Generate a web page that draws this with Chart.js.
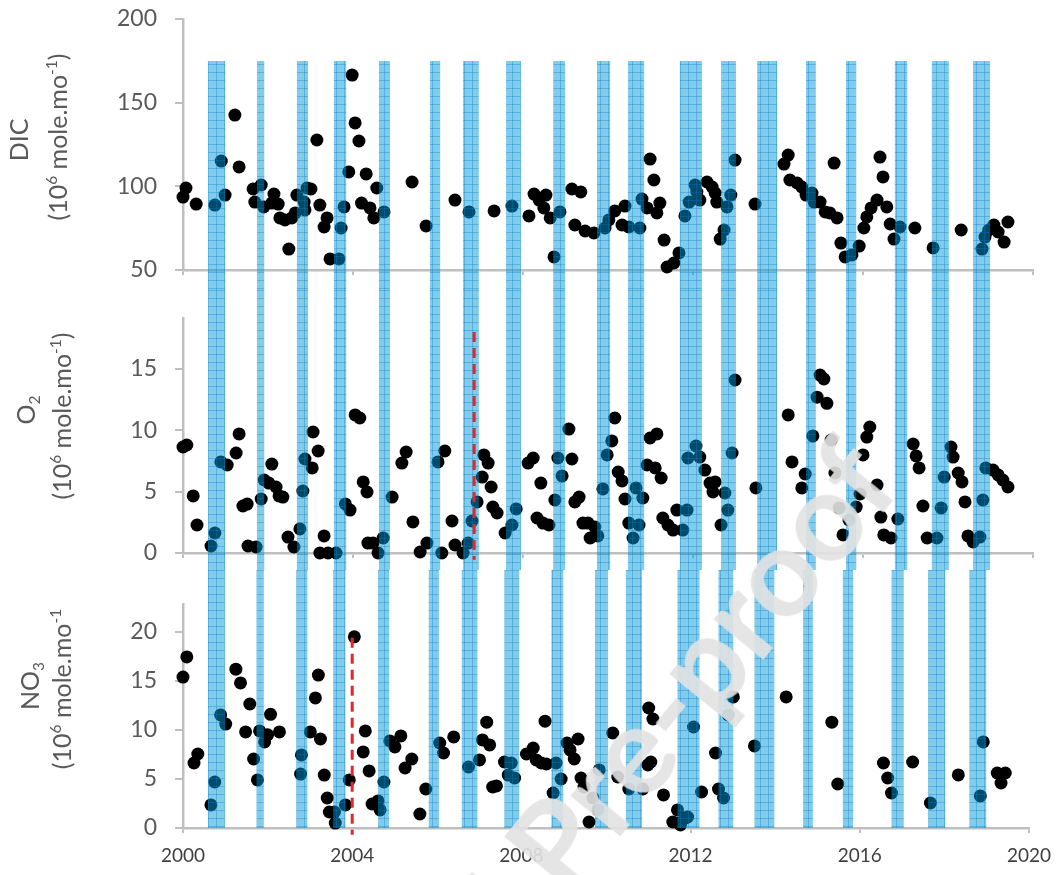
<!DOCTYPE html>
<html>
<head>
<meta charset="utf-8">
<script src="https://cdn.jsdelivr.net/npm/chart.js@4.4.1/dist/chart.umd.min.js"></script>
<style>
  body { margin: 0; background: #fff; }
  #page { position: relative; width: 1062px; height: 875px; overflow: hidden; font-family: Lato, "Open Sans", sans-serif; }
  .panel { position: absolute; left: 0; }
  .ytitle { position: absolute; transform: translate(-50%, -50%) rotate(-90deg); white-space: nowrap;
            font-size: 25px; color: #595959; line-height: 1; }
  .ytitle sup { font-size: 62%; vertical-align: 0.6em; line-height: 0; }
  .ytitle sub { font-size: 62%; vertical-align: -0.35em; line-height: 0; }
  #mark { position: absolute; left: 672px; top: 720px; width: 0; height: 0; transform: rotate(-51deg); pointer-events: none; }
  #mark span { position: absolute; top: -0.62em; font-size: 124px; font-weight: bold; line-height: 1; color: rgba(226,226,226,0.9); white-space: nowrap; }
</style>
</head>
<body>
<div id="page">
  <canvas id="dicChart" class="panel" style="top:0" width="1062" height="290"></canvas>
  <canvas id="o2Chart" class="panel" style="top:290px" width="1062" height="280"></canvas>
  <canvas id="no3Chart" class="panel" style="top:570px" width="1062" height="305"></canvas>

  <div class="ytitle" style="left:18px;top:140px">DIC</div>
  <div class="ytitle" style="left:57px;top:137px">(10<sup>6</sup> mole.mo<sup>-1</sup>)</div>
  <div class="ytitle" style="left:25px;top:410px">O<sub>2</sub></div>
  <div class="ytitle" style="left:61px;top:416px">(10<sup>6</sup> mole.mo<sup>-1</sup>)</div>
  <div class="ytitle" style="left:29px;top:686px">NO<sub>3</sub></div>
  <div class="ytitle" style="left:61px;top:689px">(10<sup>6</sup> mole.mo<sup>-1</sup></div>

  <div id="mark"><span style="right:0.16em">Journal Pre</span><span style="left:-0.16em">-proof</span></div>
</div>

<script>
// axes
const yearTicks = [2000, 2004, 2008, 2012, 2016, 2020];
const dicTicks = [50, 100, 150, 200];
const o2Ticks = [0, 5, 10, 15];
const no3Ticks = [0, 5, 10, 15, 20];

// blue bands (start / end, decimal year)
const bandStart = [2000.59, 2001.74, 2002.68, 2003.55, 2004.61, 2005.81, 2006.59, 2007.60, 2008.71, 2009.74,
                   2010.47, 2011.69, 2012.66, 2013.51, 2014.66, 2015.60, 2016.75, 2017.62, 2018.59];
const bandEnd   = [2000.99, 2001.91, 2002.94, 2003.84, 2004.87, 2006.05, 2006.96, 2007.95, 2008.99, 2010.05,
                   2010.85, 2012.21, 2013.01, 2013.98, 2014.89, 2015.84, 2017.04, 2018.02, 2018.99];

// DIC
const dicDates = [2000.00, 2000.07, 2000.31, 2000.75, 2000.90, 2000.99, 2001.22, 2001.32, 2001.65, 2001.69,
  2001.84, 2001.90, 2002.09, 2002.14, 2002.24, 2002.28, 2002.40, 2002.49, 2002.56, 2002.64,
  2002.68, 2002.85, 2002.87, 2002.92, 2003.01, 2003.15, 2003.22, 2003.32, 2003.39, 2003.46,
  2003.67, 2003.72, 2003.79, 2003.90, 2003.98, 2004.05, 2004.14, 2004.20, 2004.31, 2004.40,
  2004.49, 2004.56, 2004.73, 2005.39, 2005.72, 2006.40, 2006.73, 2007.32, 2007.74, 2008.14,
  2008.26, 2008.38, 2008.54, 2008.49, 2008.64, 2008.87, 2008.73, 2009.15, 2009.36, 2009.22,
  2009.46, 2009.67, 2009.93, 2010.02, 2010.16, 2010.40, 2010.33, 2010.49, 2010.75, 2010.80,
  2010.99, 2011.08, 2010.92, 2011.22, 2011.15, 2011.32, 2011.39, 2011.55, 2011.67, 2011.81,
  2011.91, 2012.05, 2012.09, 2012.16, 2012.33, 2012.45, 2012.52, 2012.56, 2012.64, 2012.73,
  2012.80, 2012.89, 2012.99, 2013.46, 2014.14, 2014.24, 2014.28, 2014.45, 2014.56, 2014.66,
  2014.80, 2014.85, 2014.99, 2015.11, 2015.22, 2015.39, 2015.32, 2015.48, 2015.58, 2015.74,
  2015.91, 2016.02, 2016.09, 2016.19, 2016.33, 2016.40, 2016.47, 2016.56, 2016.64, 2016.87,
  2016.73, 2017.22, 2017.65, 2018.31, 2018.80, 2018.87, 2018.96, 2019.08, 2019.18, 2019.32, 2019.41];
const dicValues = [93.6, 99.0, 89.4, 88.8, 115.1, 94.8, 142.6, 111.6, 98.4, 90.6,
  100.8, 87.7, 90.0, 95.4, 89.4, 81.1, 79.9, 62.5, 81.1, 84.1,
  94.8, 90.6, 85.9, 99.0, 98.4, 127.7, 88.8, 75.7, 81.1, 56.6,
  56.6, 75.1, 87.7, 108.6, 166.5, 137.9, 127.1, 90.0, 107.4, 87.1,
  81.1, 99.0, 84.7, 102.6, 76.3, 91.8, 84.7, 85.3, 88.2, 82.3,
  95.4, 91.8, 94.8, 87.1, 81.1, 84.7, 57.8, 98.4, 96.6, 76.9,
  73.3, 72.1, 75.1, 79.9, 85.3, 88.2, 76.9, 75.7, 75.1, 92.4,
  116.3, 103.8, 87.1, 90.0, 84.1, 67.9, 51.8, 54.2, 60.2, 82.3,
  90.6, 100.8, 96.6, 91.8, 102.6, 99.6, 96.0, 90.6, 68.5, 73.9,
  87.7, 94.8, 115.7, 89.4, 113.3, 118.7, 103.8, 102.0, 99.6, 94.8,
  96.0, 90.6, 90.6, 84.7, 84.1, 81.1, 113.9, 66.1, 57.8, 59.0,
  64.3, 75.1, 81.7, 87.1, 91.8, 117.5, 105.6, 87.7, 77.5, 75.7,
  68.5, 75.1, 63.2, 73.9, 62.5, 69.7, 73.9, 76.9, 72.7, 66.7, 78.7];

// O2
const o2Dates = [2000.00, 2000.09, 2000.24, 2000.33, 2000.66, 2000.75, 2000.89, 2001.04, 2001.25, 2001.32,
  2001.41, 2001.51, 2001.53, 2001.72, 2001.84, 2001.91, 2002.02, 2002.09, 2002.19, 2002.26,
  2002.35, 2002.47, 2002.61, 2002.75, 2002.82, 2002.87, 2003.04, 2003.06, 2003.18, 2003.22,
  2003.32, 2003.41, 2003.60, 2003.82, 2003.93, 2004.05, 2004.16, 2004.24, 2004.33, 2004.35,
  2004.47, 2004.59, 2004.71, 2004.92, 2005.15, 2005.25, 2005.41, 2005.58, 2005.74, 2006.00,
  2006.09, 2006.16, 2006.33, 2006.40, 2006.59, 2006.71, 2006.80, 2006.92, 2007.04, 2007.08,
  2007.18, 2007.25, 2007.29, 2007.39, 2007.58, 2007.74, 2007.84, 2008.12, 2008.24, 2008.33,
  2008.42, 2008.47, 2008.61, 2008.75, 2008.82, 2008.92, 2009.08, 2009.15, 2009.22, 2009.32,
  2009.41, 2009.53, 2009.58, 2009.69, 2009.76, 2009.88, 2009.98, 2010.09, 2010.16, 2010.24,
  2010.33, 2010.40, 2010.49, 2010.59, 2010.66, 2010.73, 2010.82, 2010.92, 2010.99, 2011.11,
  2011.15, 2011.25, 2011.29, 2011.41, 2011.53, 2011.62, 2011.76, 2011.86, 2011.88, 2012.07,
  2012.16, 2012.28, 2012.40, 2012.47, 2012.52, 2012.66, 2012.75, 2012.82, 2012.92, 2012.99,
  2013.48, 2014.24, 2014.33, 2014.56, 2014.64, 2014.82, 2014.92, 2014.99, 2015.08, 2015.15,
  2015.25, 2015.34, 2015.44, 2015.53, 2015.67, 2015.84, 2015.93, 2016.00, 2016.09, 2016.16,
  2016.33, 2016.42, 2016.49, 2016.66, 2016.82, 2017.18, 2017.25, 2017.32, 2017.41, 2017.51,
  2017.74, 2017.84, 2017.91, 2018.07, 2018.12, 2018.24, 2018.33, 2018.40, 2018.47, 2018.59,
  2018.75, 2018.82, 2018.89, 2019.06, 2019.18, 2019.29, 2019.41];
const o2Values = [8.64, 8.80, 4.65, 2.28, 0.57, 1.63, 7.42, 7.17, 8.15, 9.70,
  3.83, 3.99, 0.57, 0.49, 4.40, 5.95, 5.70, 7.25, 5.38, 4.65,
  4.56, 1.30, 0.49, 1.96, 5.05, 7.66, 6.93, 9.86, 8.31, 0.00,
  1.39, 0.00, 0.00, 4.00, 3.50, 11.25, 11.00, 5.79, 4.97, 0.81,
  0.81, 0.00, 1.22, 4.56, 7.33, 8.23, 2.53, 0.08, 0.81, 7.42,
  0.00, 8.31, 2.61, 0.65, 0.00, 0.81, 2.61, 4.16, 6.19, 7.99,
  7.33, 5.38, 3.75, 3.26, 1.63, 2.28, 3.59, 7.33, 7.74, 2.85,
  5.70, 2.44, 2.28, 4.32, 7.74, 6.28, 10.10, 7.66, 4.16, 4.56,
  2.44, 2.44, 1.22, 2.12, 1.39, 5.22, 7.99, 9.13, 11.00, 6.60,
  5.87, 4.40, 2.44, 1.22, 5.30, 2.28, 4.48, 7.17, 9.37, 6.93,
  9.70, 6.11, 2.85, 2.28, 1.87, 3.50, 1.87, 3.50, 7.74, 8.72,
  7.82, 6.76, 5.70, 4.97, 5.79, 2.28, 4.89, 3.50, 8.15, 14.10,
  5.30, 11.25, 7.42, 5.30, 6.44, 9.54, 12.70, 14.50, 14.18, 12.20,
  9.20, 6.52, 3.67, 1.47, 2.69, 3.75, 4.81, 7.99, 9.45, 10.27,
  5.54, 2.93, 1.47, 1.22, 2.77, 8.88, 7.91, 6.93, 3.83, 1.22,
  1.22, 3.67, 6.19, 8.64, 7.82, 6.52, 5.79, 4.16, 1.39, 0.90,
  1.30, 4.32, 6.93, 6.76, 6.36, 5.95, 5.38];

// NO3
const no3Dates = [2000.00, 2000.09, 2000.26, 2000.35, 2000.66, 2000.75, 2000.89, 2001.01, 2001.25, 2001.36,
  2001.48, 2001.58, 2001.67, 2001.76, 2001.81, 2001.93, 2002.00, 2002.07, 2002.28, 2002.78,
  2002.80, 2003.01, 2003.13, 2003.20, 2003.25, 2003.34, 2003.41, 2003.46, 2003.58, 2003.60,
  2003.84, 2003.93, 2004.05, 2004.26, 2004.31, 2004.40, 2004.47, 2004.61, 2004.66, 2004.75,
  2004.89, 2005.01, 2005.15, 2005.25, 2005.41, 2005.60, 2005.74, 2006.07, 2006.16, 2006.40,
  2006.75, 2007.01, 2007.08, 2007.18, 2007.25, 2007.32, 2007.41, 2007.60, 2007.69, 2007.76,
  2007.84, 2008.12, 2008.28, 2008.35, 2008.47, 2008.56, 2008.59, 2008.75, 2008.82, 2008.94,
  2009.08, 2009.15, 2009.25, 2009.34, 2009.41, 2009.48, 2009.60, 2009.69, 2009.81, 2009.84,
  2010.16, 2010.28, 2010.54, 2010.87, 2010.99, 2011.06, 2011.01, 2011.11, 2011.36, 2011.58,
  2011.69, 2011.72, 2011.76, 2011.88, 2011.93, 2012.07, 2012.26, 2012.59, 2012.66, 2012.78,
  2012.89, 2013.01, 2013.51, 2014.26, 2015.34, 2015.48, 2016.56, 2016.66, 2016.75, 2017.25,
  2017.67, 2018.33, 2018.85, 2018.92, 2019.25, 2019.34, 2019.44];
const no3Values = [15.4, 17.45, 6.63, 7.55, 2.35, 4.69, 11.53, 10.6, 16.2, 14.8,
  9.8, 12.65, 7.04, 4.9, 9.9, 8.78, 9.5, 11.6, 9.8, 5.5,
  7.45, 9.8, 13.27, 15.6, 9.08, 5.4, 3.06, 1.63, 1.63, 0.5,
  2.35, 4.9, 19.5, 7.76, 9.9, 5.82, 2.45, 2.76, 1.84, 4.69,
  8.88, 8.27, 9.39, 6.12, 7.04, 1.43, 3.98, 8.67, 7.65, 9.29,
  6.22, 6.94, 8.98, 10.8, 8.47, 4.18, 4.29, 6.73, 5.4, 6.63,
  5.1, 7.55, 8.16, 6.94, 6.63, 10.9, 6.53, 3.57, 6.63, 5.0,
  8.67, 7.96, 7.04, 9.08, 5.1, 4.18, 0.61, 3.06, 1.84, 5.92,
  9.69, 5.2, 3.98, 3.98, 6.43, 6.73, 12.24, 11.12, 3.37, 0.61,
  1.84, 0.5, 0.31, 1.02, 1.12, 10.3, 3.67, 7.65, 3.98, 3.06,
  11.53, 13.37, 8.37, 13.37, 10.8, 4.49, 6.63, 5.1, 3.57, 6.73,
  2.55, 5.41, 3.27, 8.78, 5.61, 4.59, 5.61];

// red dashed markers: year, top value, bottom value
const o2MarkerYear = 2006.85;
const o2MarkerRange = [18.0, -0.55];
const no3MarkerYear = 2004.0;
const no3MarkerRange = [19.4, -0.7];

function toPoints(dates, values) {
  return dates.map((d, i) => ({ x: d, y: values[i] }));
}

function bandPattern(ctx) {
  const c = document.createElement('canvas');
  c.width = 8; c.height = 8;
  const p = c.getContext('2d');
  p.fillStyle = 'rgba(0,150,215,0.49)';
  p.fillRect(0, 0, 8, 8);
  p.fillStyle = 'rgba(0,125,205,0.35)';
  p.fillRect(0, 0, 8, 1);
  p.fillRect(0, 0, 1, 8);
  return ctx.createPattern(c, 'repeat');
}

// bands are painted right after the dots, so the dots show through them
const bandPlugin = {
  id: 'bands',
  afterDatasetDraw(chart, args, opts) {
    if (chart.data.datasets[args.index].type !== 'scatter') return;
    const ctx = chart.ctx;
    const xs = chart.scales.x;
    const top = opts.top;
    const bottom = opts.bottom === 'area' ? chart.chartArea.bottom : opts.bottom;
    ctx.save();
    ctx.fillStyle = bandPattern(ctx);
    bandStart.forEach((s, i) => {
      const x1 = xs.getPixelForValue(s);
      const x2 = xs.getPixelForValue(bandEnd[i]);
      ctx.fillRect(x1, top, x2 - x1, bottom - top);
    });
    ctx.restore();
  }
};

function makeChart(id, o) {
  const datasets = [];
  if (o.markerYear !== undefined) {
    datasets.push({
      type: 'line',
      data: [{ x: o.markerYear, y: o.markerRange[0] }, { x: o.markerYear, y: o.markerRange[1] }],
      borderColor: '#E3262A',
      borderWidth: 3,
      borderDash: [10, 6],
      pointRadius: 0,
      fill: false,
      clip: false
    });
  }
  datasets.push({
    type: 'scatter',
    data: o.points,
    backgroundColor: '#000',
    borderWidth: 0,
    pointRadius: 6.5,
    pointHoverRadius: 6.5,
    clip: false
  });

  const axisGrey = '#BFBFBF';
  return new Chart(document.getElementById(id), {
    type: 'scatter',
    data: { datasets },
    plugins: [bandPlugin],
    options: {
      responsive: false,
      animation: false,
      events: [],
      layout: { autoPadding: false, padding: { top: o.padTop, right: 29, bottom: 0, left: 0 } },
      plugins: {
        legend: { display: false },
        tooltip: { enabled: false },
        bands: { top: o.bandTop, bottom: o.bandBottom }
      },
      scales: {
        x: {
          type: 'linear',
          min: 2000,
          max: 2020,
          afterBuildTicks: s => { s.ticks = yearTicks.map(v => ({ value: v })); },
          afterFit: s => { s.height = o.xHeight; },
          border: { color: axisGrey, width: 2.5 },
          grid: { drawOnChartArea: false, drawTicks: true, tickLength: 5, color: axisGrey, lineWidth: 2 },
          ticks: {
            display: o.showYears,
            callback: v => String(v),
            color: '#404040',
            font: { family: 'Lato', size: 19 },
            padding: 11,
            maxRotation: 0,
            autoSkip: false
          }
        },
        y: {
          type: 'linear',
          min: o.yMin,
          max: o.yMax,
          afterBuildTicks: s => { s.ticks = o.yTicks.map(v => ({ value: v })); },
          // fixed width, and no extra room for the labels' padding above/below
          afterFit: s => { s.width = 183; s.paddingTop = 0; s.paddingBottom = 0; },
          border: { color: axisGrey, width: 2.5 },
          grid: { drawOnChartArea: false, drawTicks: true, tickLength: 8, color: axisGrey, lineWidth: 2 },
          ticks: { color: '#595959', font: { family: 'Lato', size: 23 }, padding: 18 }
        }
      }
    }
  });
}

makeChart('dicChart', {
  points: toPoints(dicDates, dicValues),
  yMin: 50, yMax: 200, yTicks: dicTicks,
  padTop: 19, xHeight: 20, showYears: false,
  bandTop: 61, bandBottom: 290
});

makeChart('o2Chart', {
  points: toPoints(o2Dates, o2Values),
  markerYear: o2MarkerYear, markerRange: o2MarkerRange,
  yMin: 0, yMax: 19.15, yTicks: o2Ticks,
  padTop: 28, xHeight: 17, showYears: false,
  bandTop: 0, bandBottom: 280
});

makeChart('no3Chart', {
  points: toPoints(no3Dates, no3Values),
  markerYear: no3MarkerYear, markerRange: no3MarkerRange,
  yMin: 0, yMax: 22.85, yTicks: no3Ticks,
  padTop: 34, xHeight: 47, showYears: true,
  bandTop: 0, bandBottom: 'area'
});
</script>
</body>
</html>
